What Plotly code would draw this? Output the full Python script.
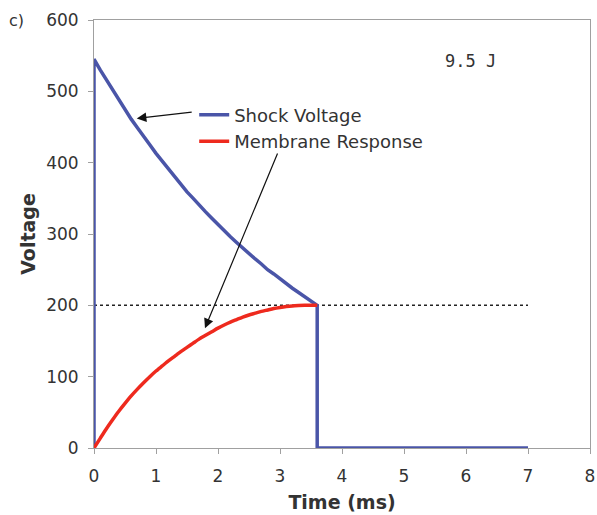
import plotly.graph_objects as go

# Time samples (ms)
t_pulse = [0.0, 0.1, 0.2, 0.3, 0.4, 0.5, 0.6, 0.7, 0.8, 0.9,
           1.0, 1.1, 1.2, 1.3, 1.4, 1.5, 1.6, 1.7, 1.8, 1.9,
           2.0, 2.1, 2.2, 2.3, 2.4, 2.5, 2.6, 2.7, 2.8, 2.9,
           3.0, 3.1, 3.2, 3.3, 3.4, 3.5, 3.6]
shock_decay = [545, 530, 516, 502, 488, 474, 461, 449, 436, 425,
               413, 402, 391, 380, 369, 359, 350, 340, 331, 322,
               313, 304, 296, 288, 280, 272, 265, 258, 250, 244,
               237, 230, 224, 218, 212, 206, 200]
membrane = [0, 13.5, 27, 39.5, 51.5, 62.5, 73, 82.5, 91.5, 100,
            108, 115, 122, 128.5, 135, 141, 147, 153, 158, 163,
            168, 172.5, 176.5, 180, 183.5, 186.5, 189, 191.5, 193.5, 195.5,
            197, 198.3, 199.2, 199.7, 200, 200, 200]

# Shock waveform: rise at t=0, decay, cut-off at 3.6 ms, zero until 7 ms
shock_t = [0.0] + t_pulse + [3.6, 7.0]
shock_v = [0] + shock_decay + [0, 0]

threshold_t = [0, 7]
threshold_v = [200, 200]

x_ticks = [0, 1, 2, 3, 4, 5, 6, 7, 8]
y_ticks = [0, 100, 200, 300, 400, 500, 600]

BLUE = "#4a55a8"
RED = "#ee2a1e"
TXT = "#333333"
AX = "#a0a0a0"

fig = go.Figure()
fig.add_trace(go.Scatter(x=threshold_t, y=threshold_v, mode="lines",
                         line=dict(color="#222222", width=1.5, dash="dot"),
                         showlegend=False, hoverinfo="skip"))
fig.add_trace(go.Scatter(x=shock_t, y=shock_v, mode="lines", name="Shock Voltage",
                         line=dict(color=BLUE, width=3.5)))
fig.add_trace(go.Scatter(x=t_pulse, y=membrane, mode="lines", name="Membrane Response",
                         line=dict(color=RED, width=3.5, shape="spline", smoothing=0.6)))

fig.add_annotation(x=0.69, y=462, ax=1.60, ay=471, xref="x", yref="y", axref="x", ayref="y",
                   text="", showarrow=True, arrowhead=2, arrowsize=1.6, arrowwidth=1.2,
                   arrowcolor="#111111")
fig.add_annotation(x=1.79, y=168, ax=2.97, ay=415, xref="x", yref="y", axref="x", ayref="y",
                   text="", showarrow=True, arrowhead=2, arrowsize=1.6, arrowwidth=1.2,
                   arrowcolor="#111111")
fig.add_annotation(x=6.08, y=542, xref="x", yref="y", text="9.5 J", showarrow=False,
                   font=dict(family="DejaVu Sans Mono", size=17, color=TXT))
fig.add_annotation(x=-0.156, y=1.0, xref="paper", yref="paper", text="c)", showarrow=False,
                   xanchor="center", yanchor="middle",
                   font=dict(family="DejaVu Sans", size=16, color=TXT))

fig.update_layout(
    width=597, height=515,
    margin=dict(l=94, r=7, t=20, b=67),
    plot_bgcolor="white", paper_bgcolor="white",
    font=dict(family="DejaVu Sans", size=17, color=TXT),
    legend=dict(x=0.202, y=0.821, xanchor="left", yanchor="top",
                bgcolor="rgba(0,0,0,0)", font=dict(size=18, color=TXT),
                tracegroupgap=0, itemwidth=30),
    showlegend=True,
)
fig.update_xaxes(range=[0, 8], tickvals=x_ticks, ticks="outside", ticklen=5, tickcolor=AX,
                 showline=True, linecolor=AX, linewidth=1, mirror=True, showgrid=False,
                 zeroline=False, automargin=False, ticklabelstandoff=8,
                 title=dict(text="<b>Time (ms)</b>", font=dict(size=19), standoff=10))
fig.update_yaxes(range=[0, 600], tickvals=y_ticks, ticks="outside", ticklen=5, tickcolor=AX,
                 showline=True, linecolor=AX, linewidth=1, mirror=True, showgrid=False,
                 zeroline=False, automargin=False, ticklabelstandoff=6,
                 title=dict(text="<b>Voltage</b>", font=dict(size=19), standoff=5))

fig.write_html("out.html")
